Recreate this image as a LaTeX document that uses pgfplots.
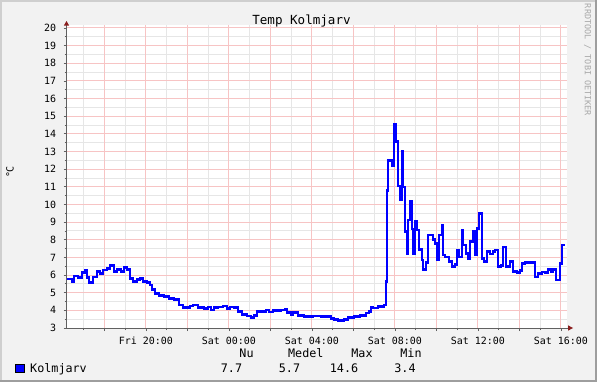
\documentclass[border=0pt]{standalone}
\usepackage{fontspec}
\setmainfont{DejaVu Sans Mono}
\usepackage{pgfplots}
\pgfplotsset{compat=1.18}
\definecolor{rrdback}{HTML}{F2F2F2}
\definecolor{shadea}{HTML}{CFCFCF}
\definecolor{shadeb}{HTML}{9E9E9E}
\definecolor{mgrid}{HTML}{F7C4C4}
\definecolor{mingrid}{HTML}{E6E6E6}
\definecolor{arrowred}{HTML}{8B1E1E}
\definecolor{axisgray}{HTML}{606060}
\definecolor{rrdblue}{HTML}{0000FF}
\definecolor{wmark}{HTML}{A8A8A8}
\pgfplotstableread{
h v
16.19 5.78
16.43 5.62
16.53 5.95
16.72 5.85
16.92 6.13
17.06 6.25
17.16 5.85
17.25 5.57
17.45 5.90
17.64 6.19
17.78 6.10
17.93 6.29
18.12 6.38
18.27 6.53
18.46 6.19
18.60 6.32
18.80 6.19
18.94 6.44
19.08 6.32
19.23 5.82
19.37 5.62
19.57 5.76
19.71 5.82
19.86 5.62
20.05 5.57
20.19 5.44
20.29 5.19
20.43 4.97
20.63 4.84
20.87 4.78
21.11 4.68
21.35 4.62
21.59 4.30
21.78 4.17
22.12 4.25
22.27 4.30
22.51 4.17
22.80 4.12
22.99 4.20
23.13 4.02
23.28 4.17
23.47 4.20
23.71 4.25
23.90 4.12
24.05 4.20
24.24 4.16
24.43 3.93
24.63 3.78
24.87 3.68
25.06 3.60
25.20 3.72
25.35 3.93
25.78 4.02
25.93 3.90
26.12 3.98
26.51 4.02
26.70 4.08
26.80 3.88
26.99 3.74
27.08 3.88
27.33 3.70
27.61 3.64
28.05 3.68
28.43 3.64
28.92 3.55
29.06 3.48
29.25 3.43
29.54 3.49
29.73 3.59
30.02 3.64
30.31 3.70
30.60 3.85
30.75 3.94
30.84 4.19
30.94 4.14
31.18 4.21
31.47 4.30
31.57 5.62
31.61 10.80
31.66 12.48
31.86 12.18
31.95 14.55
32.05 13.56
32.14 11.05
32.24 10.25
32.34 13.00
32.39 11.00
32.48 8.46
32.58 7.20
32.63 9.12
32.72 10.20
32.82 8.60
32.87 7.20
32.96 9.02
33.06 8.56
33.16 7.46
33.30 6.85
33.35 6.33
33.49 6.70
33.59 8.27
33.83 8.03
33.93 7.80
34.02 6.85
34.12 8.27
34.27 8.84
34.31 7.14
34.41 7.03
34.60 6.76
34.75 6.47
34.89 6.60
34.99 7.38
35.08 7.03
35.23 8.55
35.28 7.70
35.42 7.23
35.52 6.95
35.61 7.90
35.76 8.46
35.86 7.14
35.95 8.65
36.05 9.50
36.19 6.95
36.29 6.76
36.43 7.33
36.58 7.20
36.72 7.33
36.82 7.42
36.96 6.47
37.11 6.55
37.20 7.60
37.35 6.50
37.54 6.76
37.69 6.19
37.88 6.13
38.02 6.27
38.12 6.67
38.27 6.70
38.60 6.72
38.75 5.90
38.89 6.10
39.08 6.18
39.23 6.15
39.37 6.30
39.52 6.20
39.61 6.33
39.76 5.72
39.95 6.67
40.05 7.70
40.19 7.70
}\temptable
\begin{document}
\begin{tikzpicture}[x=1bp,y=1bp]
% background and shaded frame
\fill[rrdback] (0,0) rectangle (597,382);
\fill[shadea] (0,380) rectangle (597,382);
\fill[shadea] (0,0) rectangle (2,382);
\fill[shadeb] (0,0) rectangle (597,2);
\fill[shadeb] (595,0) rectangle (597,382);
\begin{axis}[
  at={(66.5bp,54bp)}, anchor=south west,
  scale only axis, width=500bp, height=303bp,
  xmin=16.17, xmax=40.27, ymin=3, ymax=20.17,
  axis background/.style={fill=white},
  axis line style={draw=none},
  xtick={18,20,...,40},
  xticklabels={,Fri 20:00,,Sat 00:00,,Sat 04:00,,Sat 08:00,,Sat 12:00,,Sat 16:00},
  minor xtick={17,19,...,39},
  ytick={3,4,...,20},
  minor ytick={3.5,4.5,...,19.5},
  xtick pos=bottom, ytick pos=left,
  tick align=outside,
  major tick length=3bp, minor tick length=2bp,
  tick style={axisgray, line width=0.8bp},
  /pgf/number format/assume math mode=true,
  tick label style={font=\fontsize{10}{12}\selectfont, text=black, inner sep=0pt},
  xticklabel style={anchor=base, yshift=-13bp},
  yticklabel style={anchor=east, xshift=-7.2bp},
  clip=false,
]
% grid lines (RRDtool style: light gray minor, pink major)
\pgfplotsinvokeforeach{17,19,...,39}{
  \draw[mingrid, line width=1bp] (axis cs:#1,3) -- (axis cs:#1,20.17);}
\pgfplotsinvokeforeach{3.5,4.5,...,19.5}{
  \draw[mingrid, line width=1bp] (axis cs:16.17,#1) -- (axis cs:40.27,#1);}
\pgfplotsinvokeforeach{18,20,...,40}{
  \draw[mgrid, line width=1bp] (axis cs:#1,3) -- (axis cs:#1,20.17);}
\pgfplotsinvokeforeach{4,5,...,20}{
  \draw[mgrid, line width=1bp] (axis cs:16.17,#1) -- (axis cs:40.27,#1);}
\addplot[const plot, rrdblue, line width=2.6bp, line join=miter] table[x=h, y=v] {\temptable};
\end{axis}
% axis lines and arrows
\draw[axisgray, line width=1bp] (66.5,54) -- (66.5,358);
\draw[axisgray, line width=1bp] (66.5,54) -- (569,54);
\fill[arrowred] (63.8,356.3) -- (69.2,356.3) -- (66.5,361) -- cycle;
\fill[arrowred] (568,51.3) -- (568,56.7) -- (573,54) -- cycle;
% title
\node[anchor=base, inner sep=0pt, font=\fontsize{12.6}{14}\selectfont] at (301.5,358) {Temp Kolmjarv};
% y unit
\node[rotate=90, inner sep=0pt, font=\fontsize{10}{12}\selectfont] at (10,210) {°C};
% watermark
\node[rotate=-90, inner sep=0pt, text=wmark, font=\fontsize{8.5}{10}\selectfont] at (587.5,322) {RRDTOOL / TOBI OETIKER};
% legend
\fill[rrdblue, draw=black, line width=0.8bp] (15.5,9.5) rectangle (24,18);
\begin{scope}[every node/.style={inner sep=0pt, anchor=base, font=\fontsize{11.8}{13}\selectfont}]
\node[anchor=base west] at (30,10) {Kolmjarv};
\node at (246.5,25) {Nu};
\node at (305.8,25) {Medel};
\node at (362,25) {Max};
\node at (411,25) {Min};
\node at (231.5,10) {7.7};
\node at (289.5,10) {5.7};
\node at (344,10) {14.6};
\node at (405,10) {3.4};
\end{scope}
\end{tikzpicture}
\end{document}
